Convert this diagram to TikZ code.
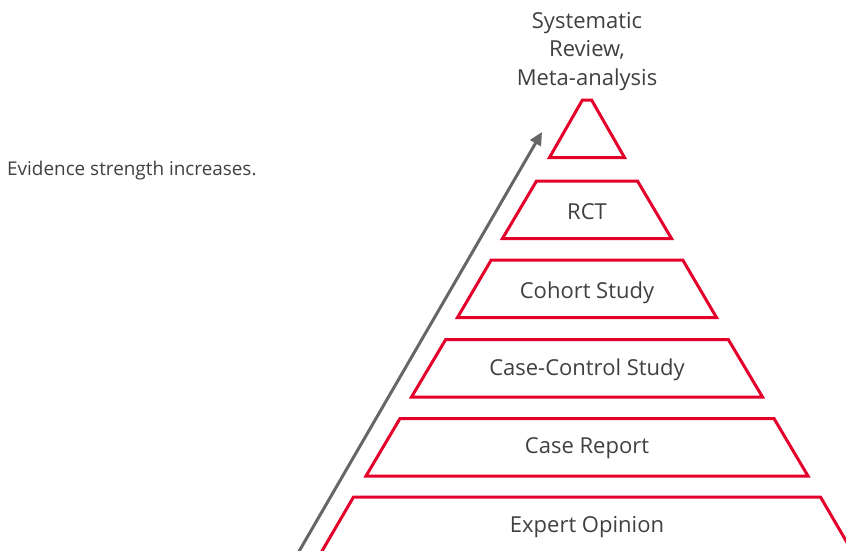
\documentclass[tikz,border=0pt]{standalone}
\usepackage{fontspec}
\setmainfont{Open Sans}
\usetikzlibrary{arrows.meta}
\definecolor{pyrred}{RGB}{228,0,43}
\definecolor{txtgray}{RGB}{64,64,64}
\definecolor{arrgray}{RGB}{102,102,102}
\tikzset{
  layer/.style={draw=pyrred, line width=3pt, line join=miter},
  lbl/.style={text=txtgray, font=\fontsize{22}{28.5}\selectfont, inner sep=0pt},
  growarrow/.style={draw=arrgray, line width=3pt, -{Triangle[length=13pt,width=12pt]}},
}
\begin{document}
\begin{tikzpicture}[x=1pt,y=-1pt]
\useasboundingbox (0,0) rectangle (846,550);
\clip (0,0) rectangle (846,550);
% layers: top y, half width top, half width bottom
\foreach \n/\yt/\ht/\hb in {L0/100/4.6/37.5, L1/181/50.5/84.5, L2/260/95.8/129.5, L3/339.5/141.3/175.5, L4/418.5/187/221, L5/497/233.5/267}{
  \draw[layer] (587-\ht,\yt) -- (587+\ht,\yt) -- (587+\hb,\yt+57.5) -- (587-\hb,\yt+57.5) -- cycle;
}
\node[lbl, align=center, anchor=base] (top) at (587,85) {Systematic\\Review,\\Meta-analysis};
\node[lbl] (rct) at (587,212) {RCT};
\node[lbl] (cohort) at (587,292.5) {Cohort Study};
\node[lbl] (cc) at (587,369.5) {Case-Control Study};
\node[lbl] (cr) at (587,448.5) {Case Report};
\node[lbl] (eo) at (587,527) {Expert Opinion};
\node[text=txtgray, font=\fontsize{18.9}{22}\selectfont, anchor=base west, inner sep=0pt] (ev) at (7,175) {Evidence strength increases.};
\coordinate (arrstart) at (294,560);
\coordinate (arrend) at (542,132);
\draw[growarrow] (arrstart) -- (arrend);
\end{tikzpicture}
\end{document}
